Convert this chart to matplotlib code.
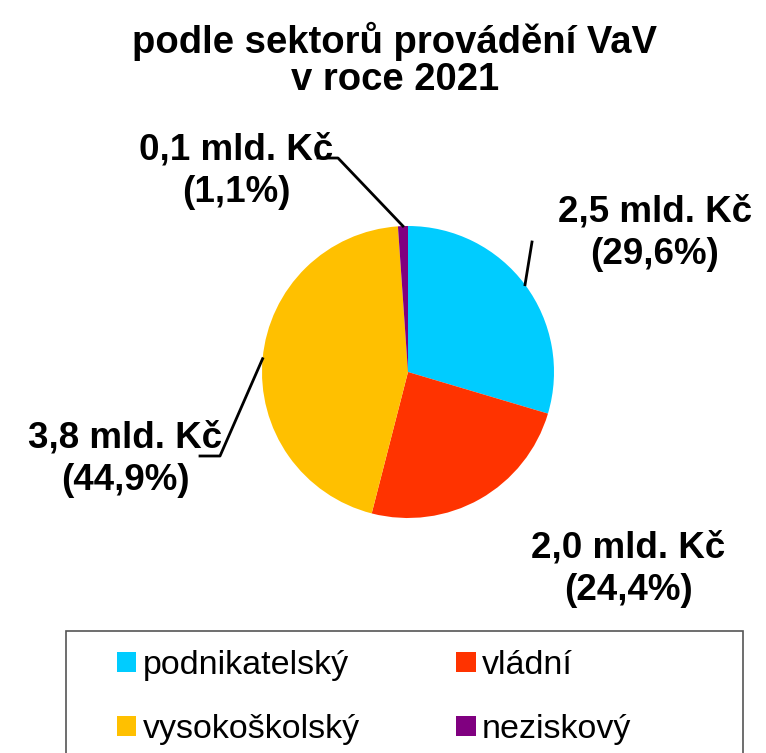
import numpy as np
import matplotlib.pyplot as plt
from matplotlib.patches import Rectangle, Patch

plt.rcParams['font.family'] = ['Liberation Sans', 'DejaVu Sans']

# dane
sektory = ['podnikatelský', 'vládní', 'vysokoškolský', 'neziskový']
podily = [29.6, 24.4, 44.9, 1.1]          # %
castky = ['2,5', '2,0', '3,8', '0,1']      # mld. Kč
barvy = ['#00CCFF', '#FF3300', '#FFC000', '#800080']

W, H = 766, 753
fig = plt.figure(figsize=(W / 100, H / 100), dpi=100)

def fx(px):
    return px / W

def fy(py):
    return 1 - py / H

# kolac: stred (408, 372), polomer 146 px
cx, cy, r = 408, 372, 146
ax = fig.add_axes([fx(cx - r), fy(cy + r), 2 * r / W, 2 * r / H])
wedges, _ = ax.pie(podily, colors=barvy, startangle=90, counterclock=False,
                   radius=1, wedgeprops=dict(linewidth=0))
ax.set_xlim(-1, 1)
ax.set_ylim(-1, 1)
ax.set_aspect('auto')
ax.axis('off')

fig.text(fx(395), fy(60), 'podle sektorů provádění VaV\nv roce 2021',
         ha='center', va='center', fontsize=27.5, fontweight='bold',
         linespacing=1.05)

# popisky (stred textu v px) a vodici cary (body v px, prvni bod je na okraji)
popisky = {
    0: ((655, 233), [(532, 242)]),
    1: ((628, 569), None),
    2: ((125, 459), [(220, 456), (200, 456)]),
    3: ((236, 171), [(338, 158), (318, 158)]),
}

for i, w in enumerate(wedges):
    (tx, ty), cara = popisky[i]
    fig.text(fx(tx), fy(ty), '%s mld. Kč\n(%s%%)' % (castky[i], str(podily[i]).replace('.', ',')),
             ha='center', va='center', fontsize=26.5, fontweight='bold',
             linespacing=1.28)
    if cara:
        uhel = np.deg2rad((w.theta1 + w.theta2) / 2)
        x0 = cx + r * np.cos(uhel)
        y0 = cy - r * np.sin(uhel)
        xs = [x0] + [p[0] for p in cara]
        ys = [y0] + [p[1] for p in cara]
        fig.add_artist(plt.Line2D([fx(x) for x in xs], [fy(y) for y in ys],
                                  color='black', lw=2))

# legenda
fig.add_artist(Rectangle((fx(66), fy(790)), fx(743) - fx(66), fy(631) - fy(790),
                         transform=fig.transFigure, fill=False,
                         edgecolor='#555555', lw=1.2))
poradi = [0, 2, 1, 3]
handles = [Patch(facecolor=barvy[i], edgecolor='none') for i in poradi]
fig.legend(handles, [sektory[i] for i in poradi], ncol=2, frameon=False,
           loc='upper left', bbox_to_anchor=(fx(117), fy(650)),
           fontsize=24.5, handlelength=0.57, handleheight=0.57,
           handletextpad=0.18, columnspacing=2.84, labelspacing=0.97,
           borderpad=0, borderaxespad=0)

fig.savefig('out.png', dpi=100)
